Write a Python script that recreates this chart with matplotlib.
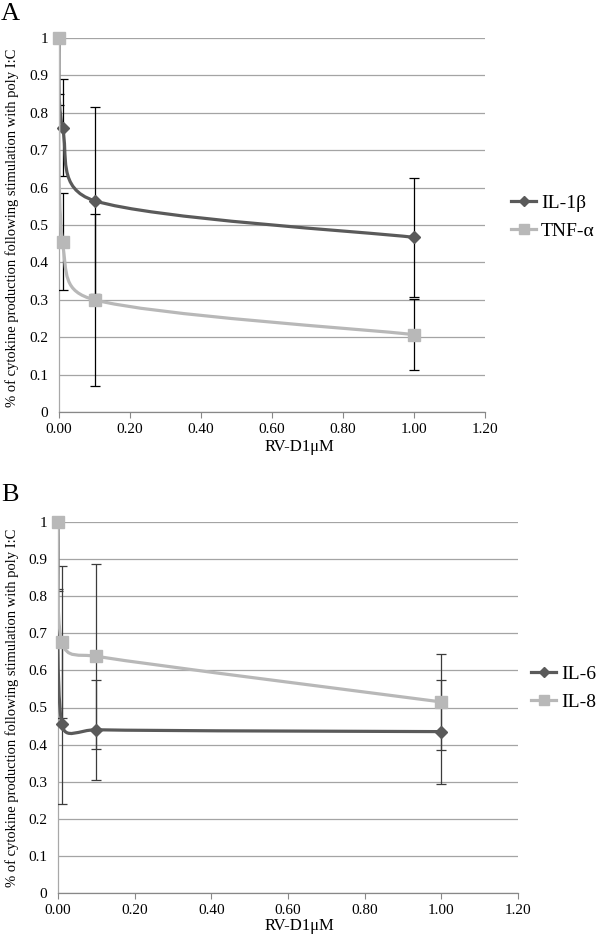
import numpy as np
import matplotlib
matplotlib.use("Agg")
import matplotlib.pyplot as plt
from matplotlib.path import Path
from matplotlib.patches import PathPatch
from matplotlib.lines import Line2D

plt.rcParams['font.family'] = ['Liberation Serif', 'DejaVu Serif']

# data
dose = [0, 0.01, 0.1, 1.0]

il1b = [1.0, 0.76, 0.565, 0.467]
il1b_err = [0.15, 0.13, 0.25, 0.16]
tnfa = [1.0, 0.455, 0.30, 0.207]
tnfa_err = [0.18, 0.13, 0.23, 0.094]

il6 = [1.0, 0.455, 0.44, 0.435]
il6_err = [0.185, 0.215, 0.135, 0.14]
il8 = [1.0, 0.677, 0.638, 0.515]
il8_err = [0.18, 0.205, 0.25, 0.13]

xticks = [0, 0.2, 0.4, 0.6, 0.8, 1.0, 1.2]
yticks = [0, 0.1, 0.2, 0.3, 0.4, 0.5, 0.6, 0.7, 0.8, 0.9, 1.0]
ylabel = "% of cytokine production following stimulation with poly I:C"
xlabel = "RV-D1\u03bcM"

dark = "#5a5a5a"
light = "#b8b8b8"

W, H = 600, 938
fig = plt.figure(figsize=(W / 100, H / 100), dpi=100)


def add_ax(l, t, r, b):
    return fig.add_axes([l / W, 1 - b / H, (r - l) / W, (b - t) / H])


def smooth_path(x, y, sx, sy):
    # Excel-style smoothed line: cubic Bezier, handles 1/6 of neighbour chord,
    # limited to half the segment length (measured in pixels)
    P = np.column_stack([x, y]).astype(float)
    n = len(P)

    def dist(a, b):
        return np.hypot((a[0] - b[0]) * sx, (a[1] - b[1]) * sy)

    verts = [P[0]]
    codes = [Path.MOVETO]
    for i in range(n - 1):
        p0 = P[i - 1] if i > 0 else P[i]
        p1, p2 = P[i], P[i + 1]
        p3 = P[i + 2] if i + 2 < n else P[i + 1]
        d12 = dist(p1, p2)
        d02 = dist(p0, p2)
        d13 = dist(p1, p3)
        f1 = min(1 / 6, d12 / (2 * d02)) if d02 > 0 else 0
        f2 = min(1 / 6, d12 / (2 * d13)) if d13 > 0 else 0
        c1 = p1 + (p2 - p0) * f1
        c2 = p2 - (p3 - p1) * f2
        verts += [c1, c2, p2]
        codes += [Path.CURVE4] * 3
    return Path(verts, codes)


def panel(ax, s1, e1, s2, e2, ecolor, wpx, hpx):
    ax.set_xlim(0, 1.2)
    ax.set_ylim(0, 1)
    sx, sy = wpx / 1.2, hpx / 1.0

    ax.errorbar(dose, s1, yerr=e1, fmt='none', ecolor=ecolor, elinewidth=0.9,
                capsize=3.5, capthick=0.9, zorder=3)
    ax.errorbar(dose, s2, yerr=e2, fmt='none', ecolor=ecolor, elinewidth=0.9,
                capsize=3.5, capthick=0.9, zorder=3)

    ax.add_patch(PathPatch(smooth_path(dose, s1, sx, sy), facecolor='none',
                           edgecolor=dark, lw=2.3, zorder=4))
    ax.plot(dose, s1, linestyle='none', marker='D', ms=6, color=dark, zorder=5,
            clip_on=False)
    ax.add_patch(PathPatch(smooth_path(dose, s2, sx, sy), facecolor='none',
                           edgecolor=light, lw=2.3, zorder=6))
    ax.plot(dose, s2, linestyle='none', marker='s', ms=8, color=light, zorder=7,
            clip_on=False)

    ax.set_xticks(xticks)
    ax.set_xticklabels(["%.2f" % v for v in xticks])
    ax.set_yticks(yticks)
    ax.set_yticklabels(["%g" % v for v in yticks])
    ax.tick_params(axis='x', direction='out', length=4, width=0.8, color='#888888',
                   labelsize=11, pad=4)
    ax.tick_params(axis='y', length=0, labelsize=11, pad=8)
    ax.yaxis.grid(True, color='#a4a4a4', lw=0.9)
    ax.set_axisbelow(True)
    for side in ['top', 'right']:
        ax.spines[side].set_visible(False)
    ax.spines['left'].set_color('#a8a8a8')
    ax.spines['bottom'].set_color('#888888')
    ax.spines['left'].set_linewidth(0.9)
    ax.spines['bottom'].set_linewidth(0.9)

    handles = [Line2D([], [], color=dark, lw=2.3, marker='D', ms=5),
               Line2D([], [], color=light, lw=2.3, marker='s', ms=7)]
    return handles


axA = add_ax(59, 38, 485, 412)
hA = panel(axA, il1b, il1b_err, tnfa, tnfa_err, 'black', 426, 374)
axB = add_ax(58, 522, 518, 893)
hB = panel(axB, il6, il6_err, il8, il8_err, '#3c3c3c', 460, 371)

fig.legend(hA, ["IL-1\u03b2", "TNF-\u03b1"], loc='center left',
           bbox_to_anchor=(511 / W, 1 - 217 / H), frameon=False, fontsize=14,
           handlelength=1.3, handletextpad=0.25, labelspacing=0.55, borderpad=0,
           borderaxespad=0)
fig.legend(hB, ["IL-6", "IL-8"], loc='center left',
           bbox_to_anchor=(531 / W, 1 - 688 / H), frameon=False, fontsize=14,
           handlelength=1.3, handletextpad=0.25, labelspacing=0.55, borderpad=0,
           borderaxespad=0)

fig.text(12 / W, 1 - 228 / H, ylabel, rotation=90, ha='center', va='center', fontsize=10.5)
fig.text(12 / W, 1 - 708 / H, ylabel, rotation=90, ha='center', va='center', fontsize=10.5)
fig.text(299 / W, 1 - 447 / H, xlabel, ha='center', va='center', fontsize=12)
fig.text(299 / W, 1 - 926 / H, xlabel, ha='center', va='center', fontsize=12)

fig.text(1 / W, 1 - 14 / H, "A", ha='left', va='center', fontsize=19)
fig.text(1 / W, 1 - 495 / H, "B", ha='left', va='center', fontsize=19)

fig.savefig("out.png", dpi=100, facecolor='white')
